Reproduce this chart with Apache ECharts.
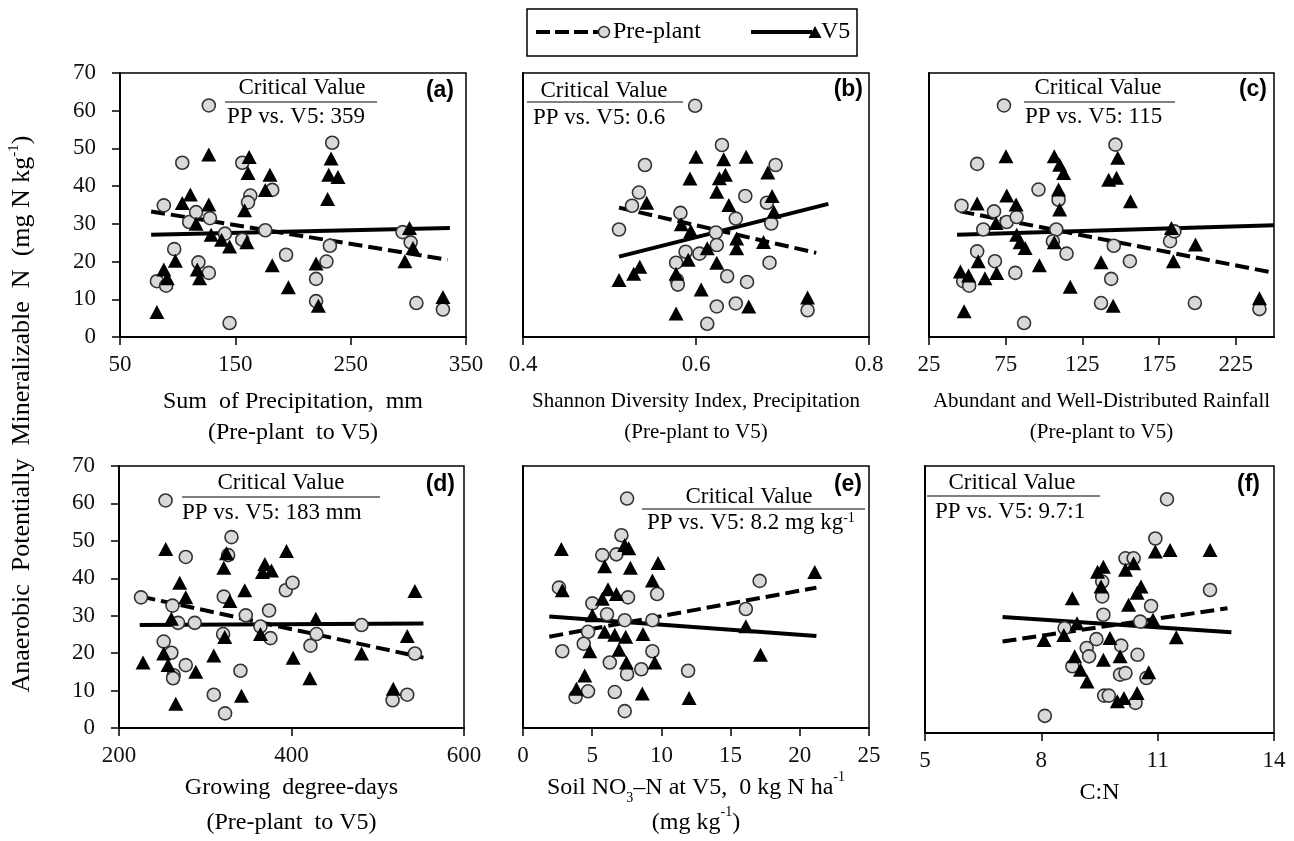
<!DOCTYPE html>
<html><head><meta charset="utf-8">
<script src="https://cdn.jsdelivr.net/npm/echarts@6/dist/echarts.min.js"></script>
<style>html,body{margin:0;padding:0;background:#fff}#c{width:1294px;height:841px}</style>
</head><body><div id="c"></div>
<script>
// ---------- DATA ----------
// (a) Sum of precipitation, mm
const aPrePlant = [[127,61.4],[88,34.9],[82,14.8],[90,13.6],[104,46.2],[97,23.3],[110,30.5],[116,33.1],[118,19.8],[127,17],[128,31.5],[145,3.7],[141,27.4],[156,46.2],[163,37.5],[161,35.7],[156,25.8],[182,39],[176,28.3],[194,21.8],[220,15.4],[220,9.5],[229,20],[232,24.2],[234,51.5],[295,27.8],[302,25.1],[307,9],[330,7.3]];
const aV5 = [[127,48.4],[82,6.6],[88,17.9],[91,15.6],[98,20.2],[104,35.5],[111,37.8],[127,35.1],[116,30],[117,17.9],[119,15.6],[129,27.1],[138,25.8],[145,24],[162,47.7],[161,43.5],[158,33.6],[160,25.1],[180,43],[176,39],[182,19],[196,13.2],[220,19.5],[222,8.3],[230,36.6],[233,47.3],[231,43],[239,42.4],[301,28.9],[297,20.1],[304,23.6],[330,10.6]];
const aTrendPrePlant = [[77,33.3],[334,20.5]];
const aTrendV5 = [[77,27.1],[336,28.9]];
const aTicks = [50,150,250,350];

// (b) Shannon diversity index
const bPrePlant = [[0.599,61.3],[0.630,50.9],[0.541,45.6],[0.692,45.6],[0.534,38.3],[0.526,34.8],[0.511,28.5],[0.582,32.9],[0.657,37.4],[0.682,35.6],[0.646,31.4],[0.623,27.7],[0.624,24.4],[0.604,22.1],[0.588,22.6],[0.577,19.7],[0.578,15.1],[0.579,13.9],[0.636,16.1],[0.659,14.6],[0.685,19.7],[0.687,30.1],[0.624,8.1],[0.646,8.9],[0.613,3.5],[0.729,7.1]];
const bV5 = [[0.511,15.1],[0.528,16.8],[0.535,18.6],[0.543,35.6],[0.577,6.2],[0.577,16.8],[0.591,20.5],[0.583,29.9],[0.594,28.1],[0.600,47.8],[0.593,42],[0.606,12.6],[0.613,23.5],[0.624,19.7],[0.624,38.5],[0.627,42.1],[0.634,43],[0.632,47.1],[0.638,35],[0.647,26.1],[0.647,23.5],[0.658,47.8],[0.661,8.1],[0.678,25.2],[0.683,43.6],[0.688,37.4],[0.690,33.2],[0.729,10.5]];
const bTrendPrePlant = [[0.511,34.3],[0.739,22.3]];
const bTrendV5 = [[0.511,21.3],[0.753,35.3]];
const bTicks = [0.4,0.6,0.8];

// (c) Abundant and well-distributed rainfall
const cPrePlant = [[73.9,61.4],[146.6,51],[56.4,45.9],[96.4,39.1],[46.2,34.8],[67.4,33.3],[75.7,30.5],[82.2,31.8],[60.4,28.5],[108,28.5],[109.5,36.4],[105.8,25.4],[114.7,22.1],[145.5,24.2],[56.4,22.7],[68,20.1],[81.3,17],[47.3,14.8],[51.2,13.6],[87,3.7],[137.2,9],[143.8,15.4],[156,20.1],[182.2,25.4],[185,28],[198.4,9],[240.5,7.4]];
const cV5 = [[75.2,47.9],[47.9,6.8],[45.5,17.4],[50.8,16.3],[57.1,20.1],[56.4,35.4],[61.5,15.6],[69.1,17],[68.7,30.2],[75.7,37.5],[81.8,35.1],[82.2,27.1],[84.4,25.1],[87.7,23.6],[97,19],[106.7,47.9],[110.2,45.7],[112.8,43.5],[109.5,39.1],[110.2,33.8],[106.7,25.1],[117.1,13.3],[142.2,41.7],[147.3,42.2],[148.1,47.5],[156.4,36],[137.2,19.8],[145.1,8.3],[183.1,28.9],[184.4,20.1],[198.8,24.5],[240.5,10.3]];
const cTrendPrePlant = [[45.5,33.3],[250,17]];
const cTrendV5 = [[43.3,27.1],[250,29.6]];
const cTicks = [25,75,125,175,225];

// (d) Growing degree-days
const dPrePlant = [[254,60.8],[225.5,34.9],[262,32.7],[268.5,28.1],[277.4,45.7],[287.8,28.1],[251.8,23.1],[260.7,20.1],[263.4,14.1],[262.7,13.3],[277.4,16.8],[309.9,8.9],[323,3.9],[330.4,51],[326.5,46.2],[321.5,35.1],[320.7,25.1],[347,30.1],[340.8,15.3],[364,27.1],[374,31.4],[375.6,24],[393.4,36.8],[401.2,38.8],[422,22],[429,25.1],[481.2,27.5],[517.2,7.4],[534.2,8.9],[543.1,19.9]];
const dV5 = [[227.9,17.5],[254.2,47.8],[251.8,19.9],[256.9,16.8],[265.8,6.5],[270.4,38.8],[277.4,34.9],[260.7,29.2],[289,15],[309.9,19.4],[321.5,42.8],[324.6,46.7],[328.6,33.9],[322.6,24.3],[342,8.6],[345.8,36.8],[364,25.1],[369.1,43.8],[366.3,41.7],[376.8,42.1],[394.2,47.3],[401.9,18.8],[421.3,13.3],[428.2,29.2],[481.2,19.9],[518,10.5],[534.2,24.6],[543.1,36.6]];
const dTrendPrePlant = [[226,35.1],[553,18.8]];
const dTrendV5 = [[224,27.5],[553,27.9]];
const dTicks = [200,400,600];

// (e) Soil NO3-N at V5
const ePrePlant = [[7.52,61.3],[7.11,51.5],[6.75,46.4],[5.73,46.2],[2.6,37.5],[7.59,34.9],[9.69,35.8],[5.01,33.3],[6.07,30.4],[7.35,28.8],[9.35,28.8],[4.7,25.7],[4.39,22.5],[2.84,20.5],[6.27,17.5],[7.52,14.4],[8.55,15.7],[9.35,20.5],[3.8,8.3],[4.7,9.8],[6.63,9.6],[7.35,4.5],[11.93,15.3],[16.1,31.8],[17.1,39.3]];
const eV5 = [[2.77,47.8],[2.84,36.8],[5.9,43.2],[7.35,48.9],[7.64,48],[7.76,42.8],[9.76,44.1],[9.35,39.4],[6.14,37.1],[6.75,35.8],[5.73,34.5],[5.01,30.1],[5.9,25.7],[6.63,24.9],[7.42,24.4],[8.67,25.1],[4.82,20.5],[6.94,20.9],[7.47,17.5],[9.52,17.5],[4.46,14],[3.86,10.5],[8.62,9.2],[12,8],[16.1,27.2],[17.16,19.6],[21.08,41.7]];
const eTrendPrePlant = [[1.9,24.4],[21.2,37.5]];
const eTrendV5 = [[1.9,29.8],[21.2,24.6]];
const eTicks = [0,5,10,15,20,25];

// (f) C:N
const fPrePlant = [[11.24,61.3],[10.94,51],[10.17,45.8],[10.38,45.8],[12.35,37.5],[9.57,39.7],[9.57,35.8],[9.6,31],[10.83,33.3],[10.55,29.2],[8.6,27.5],[9.42,24.6],[9.17,22.3],[10.06,22.9],[9.23,20.1],[10.48,20.5],[8.8,17.5],[10.03,15.3],[10.17,15.7],[10.71,14.4],[9.62,9.8],[9.74,9.8],[10.43,7.9],[8.09,4.5]];
const fV5 = [[8.8,35.3],[8.07,24.4],[8.58,25.7],[8.92,28.8],[9.6,43.6],[9.45,42.3],[9.54,38.4],[9.77,24.9],[8.86,20.1],[9.01,16.6],[9.18,13.5],[9.6,19.2],[10.03,20.1],[10.17,42.8],[10.38,44.5],[10.57,38.4],[10.47,36.8],[10.25,33.6],[10.88,29.7],[10.94,47.6],[11.32,48],[12.35,48],[11.48,25.1],[10.77,15.9],[10.47,10.5],[10.13,9.2],[9.96,8.3]];
const fTrendPrePlant = [[7,24],[12.8,32.7]];
const fTrendV5 = [[7,30.4],[12.9,26.4]];
const fTicks = [5,8,11,14];

const yTicksMax = 70;
const panelLetters = ['(a)','(b)','(c)','(d)','(e)','(f)'];
const criticalTexts = ['PP vs. V5: 359','PP vs. V5: 0.6','PP vs. V5: 115','PP vs. V5: 183 mm','PP vs. V5: 8.2 mg kg{sup|-1}','PP vs. V5: 9.7:1'];
const xNames = [
  'Sum  of Precipitation,  mm\n(Pre-plant  to V5)',
  'Shannon Diversity Index, Precipitation\n(Pre-plant to V5)',
  'Abundant and Well-Distributed Rainfall\n(Pre-plant to V5)',
  'Growing  degree-days\n(Pre-plant  to V5)',
  'Soil NO{sub|3}\u2013N at V5,  0 kg N ha{sup|-1}\n(mg kg{sup|-1})',
  'C:N'
];
const yName = 'Anaerobic  Potentially  Mineralizable  N  (mg N kg{sup|-1})';

// ---------- LAYOUT ----------
const FONT = '"Liberation Serif","Times New Roman",serif';
const panels = [
  {pp:aPrePlant, v5:aV5, tpp:aTrendPrePlant, tv5:aTrendV5, ticks:aTicks, min:50, max:350, dec:0, grid:{left:120,top:73,width:346,height:264}, nameSize:24},
  {pp:bPrePlant, v5:bV5, tpp:bTrendPrePlant, tv5:bTrendV5, ticks:bTicks, min:0.4, max:0.8, dec:1, grid:{left:523,top:73,width:346,height:264}, nameSize:21},
  {pp:cPrePlant, v5:cV5, tpp:cTrendPrePlant, tv5:cTrendV5, ticks:cTicks, min:25, max:250, dec:0, grid:{left:929,top:73,width:345,height:264}, nameSize:21},
  {pp:dPrePlant, v5:dV5, tpp:dTrendPrePlant, tv5:dTrendV5, ticks:dTicks, min:200, max:600, dec:0, grid:{left:119,top:466,width:345,height:267}, nameSize:24},
  {pp:ePrePlant, v5:eV5, tpp:eTrendPrePlant, tv5:eTrendV5, ticks:eTicks, min:0, max:25, dec:0, grid:{left:523,top:466,width:346,height:267}, nameSize:24},
  {pp:fPrePlant, v5:fV5, tpp:fTrendPrePlant, tv5:fTrendV5, ticks:fTicks, min:5, max:14, dec:0, grid:{left:925,top:466,width:349,height:267}, nameSize:24}
];
// annotation layout: [cvCenterX, cvY, lineX1, lineX2, lineY, ppLeftX, ppY]
const annoPos = [
  [302,88,225,377,102,227,117],
  [604,91,527,683,102,533,118],
  [1098,88,1024,1175,102,1025,117],
  [281,483,182,380,497,182,513],
  [749,497,642,865,509,647,523],
  [1012,483,927,1100,496,935,512]
];
const letterPos = [[454,91],[863,90],[1267,90],[455,485],[862,485],[1260,485]];

const sup = {fontSize:14, verticalAlign:'top', lineHeight:14, fontFamily:FONT, fill:'#000', color:'#000'};
const sub = {fontSize:14, verticalAlign:'bottom', lineHeight:20, fontFamily:FONT, fill:'#000', color:'#000'};

const grids = [], xAxes = [], yAxes = [], series = [], graphics = [];
panels.forEach((p, i) => {
  const row = i < 3 ? 0 : 1, col = i % 3;
  grids.push(Object.assign({show:true, borderColor:'#000', borderWidth:1.5, backgroundColor:'transparent'}, p.grid));
  const lh = row === 0 ? 31 : 35;
  xAxes.push({
    gridIndex:i, type:'value', min:p.min, max:p.max,
    splitLine:{show:false},
    axisLine:{lineStyle:{color:'#000', width:2}},
    axisTick:{show:true, length:8, inside:false, customValues:p.ticks, lineStyle:{color:'#000', width:1.5}},
    axisLabel:{customValues:p.ticks, margin:16, fontFamily:FONT, fontSize:23, color:'#111',
      formatter:v => Number(v).toFixed(p.dec)},
    name:xNames[i], nameLocation:'middle', nameGap: row === 0 ? 49 : 42,
    nameTextStyle:{fontFamily:FONT, fontSize:p.nameSize, color:'#000', lineHeight:lh,
      rich:{sup:Object.assign({}, sup), sub:Object.assign({}, sub)}}
  });
  yAxes.push({
    gridIndex:i, type:'value', min:0, max:yTicksMax, interval:10,
    splitLine:{show:false},
    axisLine:{show:true, lineStyle:{color:'#000', width:2}},
    axisTick:{show:col === 0, length:8, lineStyle:{color:'#000', width:1.5}},
    axisLabel:{show:col === 0, margin:24, fontFamily:FONT, fontSize:23, color:'#111'}
  });
  series.push(
    {type:'line', xAxisIndex:i, yAxisIndex:i, data:p.tpp, symbol:'none', silent:true, z:2,
     lineStyle:{color:'#000', width:4, type:[14,6]}},
    {type:'line', xAxisIndex:i, yAxisIndex:i, data:p.tv5, symbol:'none', silent:true, z:2,
     lineStyle:{color:'#000', width:4, type:'solid'}},
    {type:'scatter', xAxisIndex:i, yAxisIndex:i, data:p.pp, symbol:'circle', symbolSize:13, z:3,
     itemStyle:{color:'#d9d9d9', borderColor:'#333', borderWidth:1.6, opacity:1}},
    {type:'scatter', xAxisIndex:i, yAxisIndex:i, data:p.v5, symbol:'triangle', symbolSize:[15,14], z:4,
     itemStyle:{color:'#000', opacity:1}}
  );
  const a = annoPos[i];
  graphics.push(
    {type:'text', x:a[0], y:a[1], z:100, style:{text:'Critical Value', fontFamily:FONT, fontSize:23, fill:'#000', align:'center', verticalAlign:'middle'}},
    {type:'line', z:100, shape:{x1:a[2], y1:a[4], x2:a[3], y2:a[4]}, style:{stroke:'#808080', lineWidth:2}},
    {type:'text', x:a[5], y:a[6], z:100, style:{text:criticalTexts[i], fontFamily:FONT, fontSize:23, fill:'#000', align:'left', verticalAlign:'middle',
      rich:{sup:Object.assign({}, sup, {lineHeight:12})}}},
    {type:'text', x:letterPos[i][0], y:letterPos[i][1], z:100, style:{text:panelLetters[i], fontFamily:'"Liberation Sans",Arial,sans-serif', fontWeight:'bold', fontSize:23, fill:'#000', align:'right', verticalAlign:'middle'}}
  );
});

// y-axis title
graphics.push({type:'text', x:22, y:414, rotation:Math.PI/2, z:100,
  style:{text:yName, fontFamily:FONT, fontSize:26, fill:'#000', align:'center', verticalAlign:'middle', lineHeight:30,
    rich:{sup:Object.assign({}, sup, {fontSize:15, lineHeight:15})}}});

// legend
graphics.push(
  {type:'rect', z:100, shape:{x:527, y:9, width:330, height:47}, style:{fill:'#fff', stroke:'#000', lineWidth:1.5}},
  {type:'line', z:101, shape:{x1:536, y1:32, x2:598, y2:32}, style:{stroke:'#000', lineWidth:4, lineDash:[14,5]}},
  {type:'circle', z:102, shape:{cx:604, cy:32, r:5.5}, style:{fill:'#d9d9d9', stroke:'#333', lineWidth:1.5}},
  {type:'text', z:101, x:613, y:32, style:{text:'Pre-plant', fontFamily:FONT, fontSize:24, fill:'#000', align:'left', verticalAlign:'middle'}},
  {type:'line', z:101, shape:{x1:751, y1:32, x2:812, y2:32}, style:{stroke:'#000', lineWidth:4}},
  {type:'polygon', z:102, shape:{points:[[815,26],[808.5,38],[821.5,38]]}, style:{fill:'#000'}},
  {type:'text', z:101, x:821, y:32, style:{text:'V5', fontFamily:FONT, fontSize:24, fill:'#000', align:'left', verticalAlign:'middle'}}
);

const chart = echarts.init(document.getElementById('c'), null, {renderer:'canvas'});
chart.setOption({
  animation:false,
  backgroundColor:'#fff',
  grid:grids, xAxis:xAxes, yAxis:yAxes, series:series, graphic:graphics
});
</script></body></html>
